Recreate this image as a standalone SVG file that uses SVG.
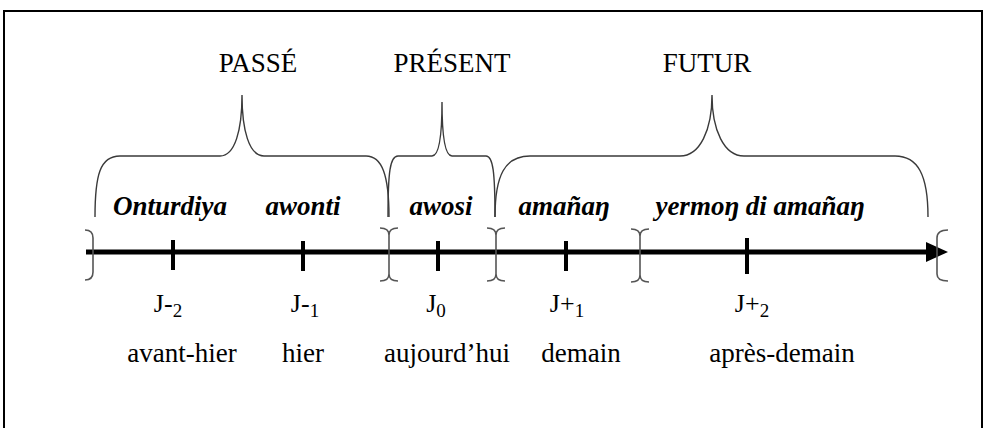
<svg xmlns="http://www.w3.org/2000/svg" width="986" height="428" viewBox="0 0 986 428">
<style>
.frame{fill:none;stroke:#000;stroke-width:2}
.brace{fill:none;stroke:#3a3a3a;stroke-width:1.4}
.brk{fill:none;stroke:#555;stroke-width:1.6}
.axis{stroke:#000;stroke-width:5}
.tick{stroke:#000;stroke-width:4}
.t{font-family:"Liberation Serif","Times New Roman",serif;fill:#000}
.big{font-size:27px;text-anchor:middle}
.it{font-size:27px;font-style:italic;font-weight:bold;text-anchor:middle}
.j{font-size:26px;text-anchor:middle}
.sub{font-size:19px}
</style>
<rect width="986" height="428" fill="#fff"/>
<path class="frame" d="M4,440 L4,11 L982,11 L982,440"/>

<g id="passe">
<path class="brace" d="M95,217 C95,175 100,156 120,156 L220,156 C235,156 242,130 242,95 C242,130 249,156 264,156 L366,156 C382,156 389,175 389,217"/>
<text class="t big" x="258" y="72">PASSÉ</text>
</g>
<g id="present">
<path class="brace" d="M388,217 C388,172 390,156 398,156 L432,156 C438,156 442,140 442,102 C442,140 446,156 452,156 L486,156 C493,156 495,172 495,217"/>
<text class="t big" x="452" y="72">PRÉSENT</text>
</g>
<g id="futur">
<path class="brace" d="M495,217 C495,175 505,156 530,156 L680,156 C700,156 712,130 712,95 C712,130 724,156 744,156 L895,156 C918,156 928,175 928,217"/>
<text class="t big" x="707" y="72">FUTUR</text>
</g>

<g id="local-terms">
<text class="t it" x="170" y="215">Onturdiya</text>
<text class="t it" x="303" y="215">awonti</text>
<text class="t it" x="441" y="215">awosi</text>
<text class="t it" x="564" y="215">amañaŋ</text>
<text class="t it" x="760" y="215">yermoŋ di amañaŋ</text>
</g>

<g id="connectors">
<line class="axis" x1="86" y1="252" x2="930" y2="252"/>
<polygon points="926,242 948,252 926,262" fill="#000"/>
<path class="brk" d="M85,230 Q93,230 93,238 L93,272 Q93,280 85,280"/>
<path class="brk" d="M380,228 C386,228 389,230 389,235 C389,230 392,228 398,228 M389,235 L389,274 M380,281 C386,281 389,279 389,274 C389,279 392,281 398,281"/>
<path class="brk" d="M487,228 C493,228 496,230 496,235 C496,230 499,228 505,228 M496,235 L496,274 M487,281 C493,281 496,279 496,274 C496,279 499,281 505,281"/>
<path class="brk" d="M631,229 C637,229 640,231 640,236 C640,231 643,229 649,229 M640,236 L640,275 M631,282 C637,282 640,280 640,275 C640,280 643,282 649,282"/>
<path class="brk" d="M948,230 Q937,230 937,238 L937,274 Q937,281 948,281"/>
</g>

<g id="j-2">
<line class="tick" x1="173" y1="240" x2="173" y2="270"/>
<text class="t j" x="168" y="312">J-<tspan class="sub" dy="5">2</tspan></text>
<text class="t big" x="182" y="362">avant-hier</text>
</g>
<g id="j-1">
<line class="tick" x1="303" y1="241" x2="303" y2="271"/>
<text class="t j" x="305" y="312">J-<tspan class="sub" dy="5">1</tspan></text>
<text class="t big" x="303" y="362">hier</text>
</g>
<g id="j0">
<line class="tick" x1="438" y1="241" x2="438" y2="271"/>
<text class="t j" x="436" y="312">J<tspan class="sub" dy="5">0</tspan></text>
<text class="t big" x="447" y="362">aujourd’hui</text>
</g>
<g id="j+1">
<line class="tick" x1="566" y1="241" x2="566" y2="271"/>
<text class="t j" x="567" y="312">J+<tspan class="sub" dy="5">1</tspan></text>
<text class="t big" x="581" y="362">demain</text>
</g>
<g id="j+2">
<line class="tick" x1="747" y1="238" x2="747" y2="274"/>
<text class="t j" x="752" y="312">J+<tspan class="sub" dy="5">2</tspan></text>
<text class="t big" x="782" y="362">après-demain</text>
</g>
</svg>
